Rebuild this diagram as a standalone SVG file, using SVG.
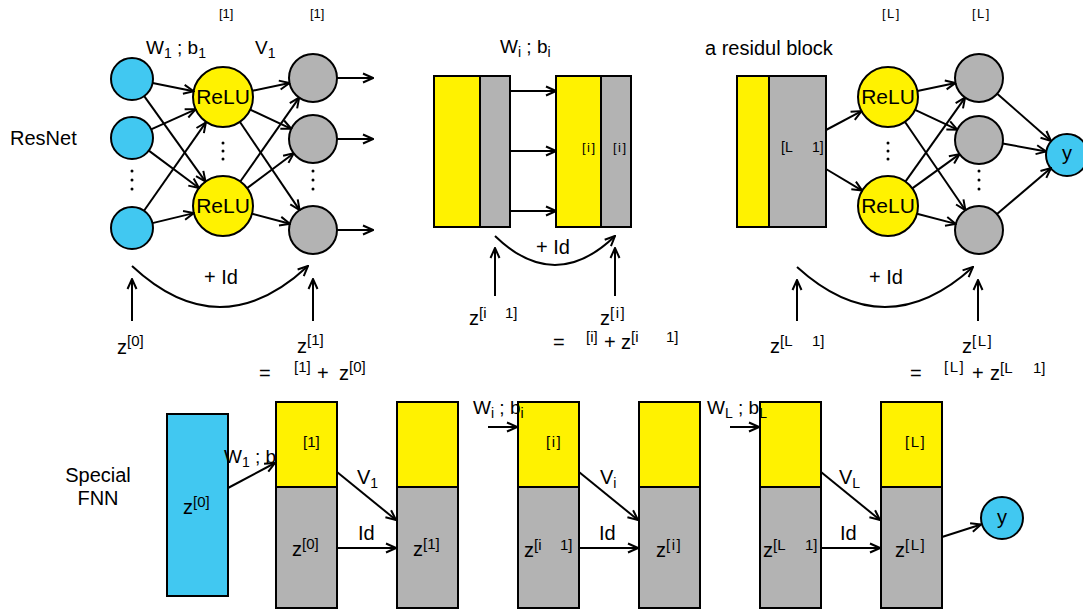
<svg xmlns="http://www.w3.org/2000/svg" width="1083" height="613" viewBox="0 0 1083 613">
<style>
.t{font-family:"Liberation Sans",Arial,sans-serif;font-size:20px;fill:#000}
.w{font-size:19px}
.sb{font-size:14px}
.sp{font-size:15px}
.sm{font-size:13px}
.ls{letter-spacing:1.5px}
.relu{font-size:21px;text-anchor:middle}
.mid{text-anchor:middle}
.ln{stroke:#000;stroke-width:2;fill:none}
.ar{marker-end:url(#ah)}
.blue{fill:#41C8F1;stroke:#000;stroke-width:2}
.yel{fill:#FFF200;stroke:#000;stroke-width:2}
.gry{fill:#B3B3B3;stroke:#000;stroke-width:2}
.dot{fill:#000}
</style>
<defs>
<marker id="ah" viewBox="0 0 12 12" markerWidth="12" markerHeight="12" refX="11" refY="6" orient="auto" markerUnits="userSpaceOnUse">
<path d="M1,1.5 L11,6 L1,10.5" fill="none" stroke="#000" stroke-width="2"/>
</marker>
</defs>
<rect width="1083" height="613" fill="#fff"/>

<!-- ================= ResNet (top-left) ================= -->
<g id="label-resnet"><text class="t" x="10" y="145">ResNet</text></g>

<g id="in1"><circle class="blue" cx="132" cy="79" r="21"/></g>
<g id="in2"><circle class="blue" cx="132" cy="138" r="21"/></g>
<g id="in3"><circle class="blue" cx="132" cy="228" r="21"/></g>
<g id="relu1"><circle class="yel" cx="223" cy="97" r="30"/><text class="t relu" x="223" y="104">ReLU</text></g>
<g id="relu2"><circle class="yel" cx="223" cy="206" r="30"/><text class="t relu" x="223" y="213">ReLU</text></g>
<g id="out1"><circle class="gry" cx="313" cy="78" r="24"/></g>
<g id="out2"><circle class="gry" cx="313" cy="139" r="24"/></g>
<g id="out3"><circle class="gry" cx="313" cy="230" r="24"/></g>
<g id="dots-left">
<circle class="dot" cx="132" cy="171" r="1.5"/><circle class="dot" cx="132" cy="180" r="1.5"/><circle class="dot" cx="132" cy="189" r="1.5"/>
<circle class="dot" cx="223" cy="143" r="1.5"/><circle class="dot" cx="223" cy="151" r="1.5"/><circle class="dot" cx="223" cy="159" r="1.5"/>
<circle class="dot" cx="313" cy="171" r="1.5"/><circle class="dot" cx="313" cy="180" r="1.5"/><circle class="dot" cx="313" cy="189" r="1.5"/>
</g>
<g id="labels-left">
<text class="t sm" x="219" y="18">[1]</text>
<text class="t sm" x="310" y="18">[1]</text>
<text class="t w" x="146" y="54" xml:space="preserve">W<tspan class="sb" dy="4">1</tspan><tspan dy="-4"> ; b</tspan><tspan class="sb" dy="4">1</tspan></text>
<text class="t w" x="255" y="54">V<tspan class="sb" dy="4">1</tspan></text>
<text class="t" x="204" y="284" xml:space="preserve">+ Id</text>
<text class="t" x="117" y="354">z<tspan class="sp" dy="-8">[0]</tspan></text>
<text class="t" x="297" y="353">z<tspan class="sp" dy="-8">[1]</tspan></text>
<text class="t" x="259" y="380">=</text>
<text class="t sp" x="294" y="372">[1]</text>
<text class="t" x="317" y="380">+</text>
<text class="t" x="339" y="380">z<tspan class="sp" dy="-8">[0]</tspan></text>
</g>

<!-- ================= middle residual ================= -->
<g id="block-a">
<rect class="yel" x="434" y="76" width="46" height="151"/>
<rect class="gry" x="480" y="76" width="30" height="151"/>
</g>
<g id="block-b">
<rect class="yel" x="556" y="76" width="45" height="151"/>
<rect class="gry" x="601" y="76" width="30" height="151"/>
<text class="t sm ls" x="582" y="152">[i]</text>
<text class="t sm ls" x="613" y="152">[i]</text>
</g>
<g id="labels-mid">
<text class="t w" x="500" y="53" xml:space="preserve">W<tspan class="sb" dy="4">i</tspan><tspan dy="-4"> ; b</tspan><tspan class="sb" dy="4">i</tspan></text>
<text class="t" x="536" y="254" xml:space="preserve">+ Id</text>
<text class="t" x="469" y="325" xml:space="preserve">z<tspan class="sp" dy="-7">[i </tspan><tspan class="sp" x="505">1]</tspan></text>
<text class="t" x="600" y="325">z<tspan class="sp ls" dy="-7">[i]</tspan></text>
<text class="t" x="553" y="349">=</text>
<text class="t sp" x="586" y="342">[i]</text>
<text class="t" x="604" y="349">+</text>
<text class="t" x="621" y="349" xml:space="preserve">z<tspan class="sp" dy="-7">[i </tspan><tspan class="sp" x="666">1]</tspan></text>
</g>

<!-- ================= right residual block ================= -->
<g id="label-block"><text class="t" x="705" y="55">a residul block</text></g>
<g id="block-c">
<rect class="yel" x="737" y="76" width="32" height="151"/>
<rect class="gry" x="769" y="76" width="57" height="151"/>
<text class="t sb" x="781" y="152" xml:space="preserve">[L <tspan x="812">1]</tspan></text>
</g>
<g id="reluL1"><circle class="yel" cx="888" cy="97" r="30"/><text class="t relu" x="888" y="104">ReLU</text></g>
<g id="reluL2"><circle class="yel" cx="888" cy="206" r="30"/><text class="t relu" x="888" y="213">ReLU</text></g>
<g id="outL1"><circle class="gry" cx="979" cy="78" r="24"/></g>
<g id="outL2"><circle class="gry" cx="979" cy="140" r="24"/></g>
<g id="outL3"><circle class="gry" cx="979" cy="230" r="24"/></g>
<g id="y-top"><circle class="blue" cx="1067" cy="155" r="21"/><text class="t mid" x="1067" y="160">y</text></g>
<g id="dots-right">
<circle class="dot" cx="888" cy="143" r="1.5"/><circle class="dot" cx="888" cy="151" r="1.5"/><circle class="dot" cx="888" cy="159" r="1.5"/>
<circle class="dot" cx="979" cy="171" r="1.5"/><circle class="dot" cx="979" cy="180" r="1.5"/><circle class="dot" cx="979" cy="189" r="1.5"/>
</g>
<g id="labels-right">
<text class="t sm ls" x="882" y="18">[L]</text>
<text class="t sm ls" x="972" y="18">[L]</text>
<text class="t" x="869" y="284" xml:space="preserve">+ Id</text>
<text class="t" x="770" y="353" xml:space="preserve">z<tspan class="sp" dy="-7">[L </tspan><tspan class="sp" x="812">1]</tspan></text>
<text class="t" x="962" y="353">z<tspan class="sp ls" dy="-7">[L]</tspan></text>
<text class="t" x="910" y="380">=</text>
<text class="t sp ls" x="944" y="372">[L]</text>
<text class="t" x="972" y="380">+</text>
<text class="t" x="990" y="380" xml:space="preserve">z<tspan class="sp" dy="-7">[L </tspan><tspan class="sp" x="1033">1]</tspan></text>
</g>

<!-- ================= Special FNN (bottom) ================= -->
<g id="label-fnn"><text class="t mid" x="98" y="482">Special</text><text class="t mid" x="98" y="505">FNN</text></g>
<g id="z0-box">
<rect class="blue" x="167" y="414" width="61" height="182"/>
<text class="t" x="183" y="514">z<tspan class="sp" dy="-7">[0]</tspan></text>
</g>
<g id="fnn-box1">
<rect class="yel" x="276" y="402" width="61" height="85"/>
<rect class="gry" x="276" y="487" width="61" height="121"/>
<text class="t sp" x="303" y="447">[1]</text>
<text class="t" x="292" y="556">z<tspan class="sp" dy="-7">[0]</tspan></text>
</g>
<g id="fnn-box2">
<rect class="yel" x="397" y="402" width="61" height="85"/>
<rect class="gry" x="397" y="487" width="61" height="121"/>
<text class="t" x="413" y="556">z<tspan class="sp" dy="-7">[1]</tspan></text>
</g>
<g id="fnn-box3">
<rect class="yel" x="518" y="402" width="61" height="85"/>
<rect class="gry" x="518" y="487" width="61" height="121"/>
<text class="t sp ls" x="546" y="447">[i]</text>
<text class="t" x="524" y="557" xml:space="preserve">z<tspan class="sp" dy="-7">[i </tspan><tspan class="sp" x="560">1]</tspan></text>
</g>
<g id="fnn-box4">
<rect class="yel" x="639" y="402" width="61" height="85"/>
<rect class="gry" x="639" y="487" width="61" height="121"/>
<text class="t" x="656" y="557">z<tspan class="sp ls" dy="-7">[i]</tspan></text>
</g>
<g id="fnn-box5">
<rect class="yel" x="760" y="402" width="61" height="85"/>
<rect class="gry" x="760" y="487" width="61" height="121"/>
<text class="t" x="763" y="557" xml:space="preserve">z<tspan class="sp" dy="-7">[L </tspan><tspan class="sp" x="805">1]</tspan></text>
</g>
<g id="fnn-box6">
<rect class="yel" x="881" y="402" width="61" height="85"/>
<rect class="gry" x="881" y="487" width="61" height="121"/>
<text class="t sp ls" x="905" y="447">[L]</text>
<text class="t" x="895" y="557">z<tspan class="sp ls" dy="-7">[L]</tspan></text>
</g>
<g id="y-bottom"><circle class="blue" cx="1002" cy="518" r="21"/><text class="t mid" x="1002" y="524">y</text></g>
<g id="labels-fnn">
<text class="t w" x="224" y="463" xml:space="preserve">W<tspan class="sb" dy="4">1</tspan><tspan dy="-4"> ; b</tspan></text>
<text class="t w" x="473" y="414" xml:space="preserve">W<tspan class="sb" dy="4">i</tspan><tspan dy="-4"> ; b</tspan><tspan class="sb" dy="4">i</tspan></text>
<text class="t w" x="707" y="414" xml:space="preserve">W<tspan class="sb" dy="4">L</tspan><tspan dy="-4"> ; b</tspan><tspan class="sb" dy="4">L</tspan></text>
<text class="t" x="357" y="484">V<tspan class="sb" dy="4">1</tspan></text>
<text class="t" x="358" y="540">Id</text>
<text class="t" x="600" y="484">V<tspan class="sb" dy="4">i</tspan></text>
<text class="t" x="599" y="540">Id</text>
<text class="t" x="839" y="484">V<tspan class="sb" dy="4">L</tspan></text>
<text class="t" x="840" y="540">Id</text>
</g>

<!-- ================= connectors ================= -->
<g id="connectors">
<line class="ln ar" x1="152.6" y1="83.1" x2="193.6" y2="91.2"/>
<line class="ln ar" x1="144.2" y1="96.1" x2="205.5" y2="181.6"/>
<line class="ln ar" x1="151.1" y1="129.4" x2="195.6" y2="109.3"/>
<line class="ln ar" x1="148.8" y1="150.6" x2="199.0" y2="188.0"/>
<line class="ln ar" x1="144.0" y1="210.8" x2="205.9" y2="122.4"/>
<line class="ln ar" x1="152.4" y1="223.1" x2="193.8" y2="213.1"/>
<line class="ln ar" x1="252.3" y1="90.8" x2="289.5" y2="83.0"/>
<line class="ln ar" x1="250.2" y1="109.7" x2="291.3" y2="128.8"/>
<line class="ln ar" x1="239.8" y1="121.8" x2="299.6" y2="210.1"/>
<line class="ln ar" x1="240.3" y1="181.5" x2="299.2" y2="97.6"/>
<line class="ln ar" x1="247.1" y1="188.1" x2="293.8" y2="153.3"/>
<line class="ln ar" x1="252.0" y1="213.7" x2="289.8" y2="223.8"/>
<line class="ln ar" x1="337" y1="78" x2="373" y2="78"/>
<line class="ln ar" x1="337" y1="139" x2="373" y2="139"/>
<line class="ln ar" x1="337" y1="230" x2="373" y2="230"/>
<path class="ln ar" d="M132,266 Q220,348 308,266"/>
<line class="ln ar" x1="132" y1="321" x2="132" y2="279"/>
<line class="ln ar" x1="313" y1="321" x2="313" y2="279"/>
<line class="ln ar" x1="510" y1="91" x2="556" y2="91"/>
<line class="ln ar" x1="510" y1="151" x2="556" y2="151"/>
<line class="ln ar" x1="510" y1="211" x2="556" y2="211"/>
<path class="ln ar" d="M495,236 Q555,294 615,236"/>
<line class="ln ar" x1="495" y1="296" x2="495" y2="248"/>
<line class="ln ar" x1="615" y1="296" x2="615" y2="248"/>
<line class="ln ar" x1="826" y1="130" x2="861.5" y2="111.1"/>
<line class="ln ar" x1="826" y1="169" x2="862.2" y2="190.6"/>
<line class="ln ar" x1="917.4" y1="90.9" x2="955.5" y2="82.9"/>
<line class="ln ar" x1="915.1" y1="109.8" x2="957.3" y2="129.7"/>
<line class="ln ar" x1="904.9" y1="121.8" x2="965.4" y2="210.2"/>
<line class="ln ar" x1="905.4" y1="181.6" x2="965.1" y2="97.6"/>
<line class="ln ar" x1="912.3" y1="188.4" x2="959.6" y2="154.1"/>
<line class="ln ar" x1="917.0" y1="213.7" x2="955.8" y2="223.9"/>
<line class="ln ar" x1="997.2" y1="93.7" x2="1051" y2="141"/>
<line class="ln ar" x1="1002.7" y1="143.5" x2="1046.2" y2="151.5"/>
<line class="ln ar" x1="997.0" y1="214.1" x2="1051" y2="168"/>
<path class="ln ar" d="M797,267 Q885,347 973,267"/>
<line class="ln ar" x1="797" y1="321" x2="797" y2="280"/>
<line class="ln ar" x1="978" y1="321" x2="978" y2="280"/>
<line class="ln ar" x1="228" y1="488" x2="275" y2="463"/>
<line class="ln ar" x1="337" y1="472" x2="396" y2="520"/>
<line class="ln ar" x1="337" y1="548" x2="396" y2="548"/>
<line class="ln ar" x1="488" y1="427" x2="517" y2="427"/>
<line class="ln ar" x1="579" y1="472" x2="638" y2="520"/>
<line class="ln ar" x1="579" y1="548" x2="638" y2="548"/>
<line class="ln ar" x1="730" y1="427" x2="759" y2="427"/>
<line class="ln ar" x1="821" y1="472" x2="880" y2="520"/>
<line class="ln ar" x1="821" y1="548" x2="880" y2="548"/>
<line class="ln ar" x1="942" y1="537" x2="981" y2="524.5"/>
</g>
</svg>
